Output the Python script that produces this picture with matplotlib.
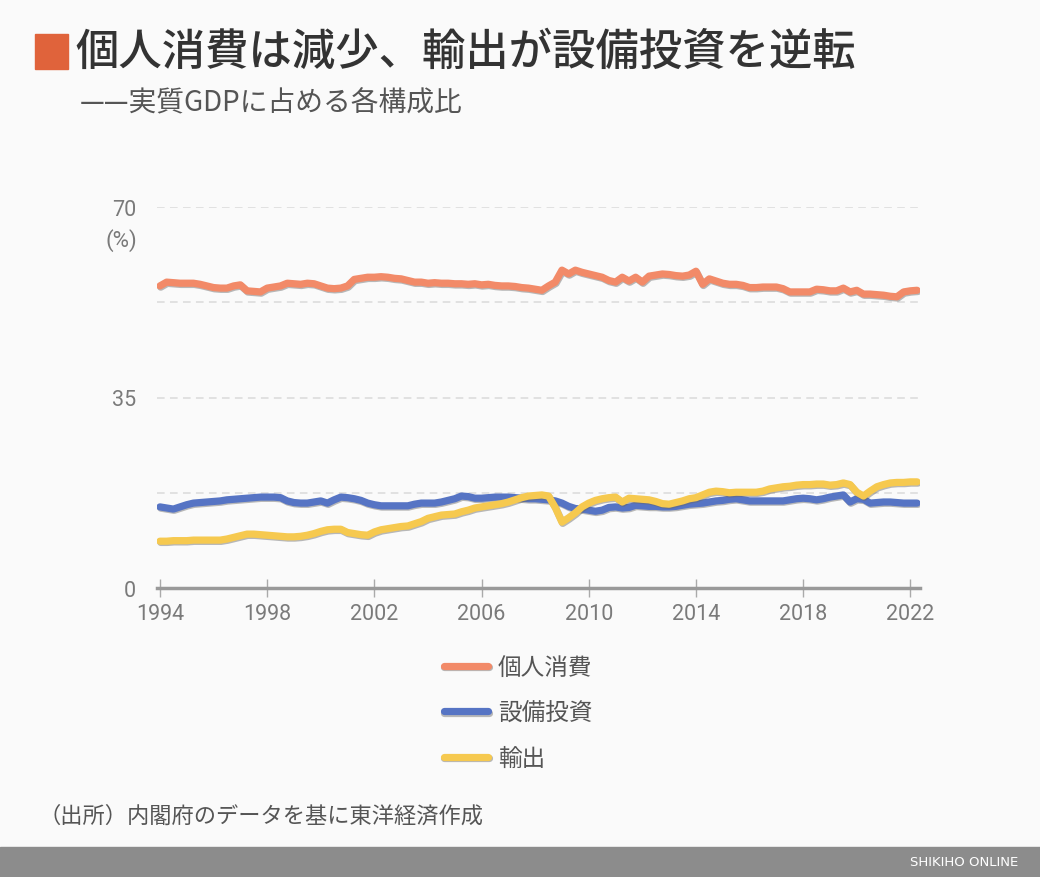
import matplotlib
matplotlib.use("Agg")
import matplotlib.pyplot as plt
import matplotlib.patheffects as pe
from matplotlib.lines import Line2D
from matplotlib.patches import Rectangle
import pandas as pd

plt.rcParams['font.family'] = ['Noto Sans CJK JP', 'DejaVu Sans']

# 実質GDPに占める各構成比（%）、四半期 1994Q1-2022Q2
quarters = pd.period_range('1994Q1', '2022Q2', freq='Q')

consumption = [
    55.5, 56.2, 56.1, 56.0,  56.0, 56.0, 55.8, 55.5,  55.2, 55.1, 55.1, 55.5,
    55.7, 54.6, 54.5, 54.4,  55.1, 55.3, 55.5, 56.0,  55.9, 55.8, 56.0, 55.9,
    55.5, 55.1, 55.0, 55.1,  55.5, 56.7, 56.9, 57.1,  57.1, 57.2, 57.1, 56.9,
    56.8, 56.5, 56.2, 56.2,  56.0, 56.1, 56.0, 56.0,  55.9, 55.9, 55.8, 55.9,
    55.7, 55.8, 55.6, 55.5,  55.5, 55.4, 55.2, 55.1,  54.9, 54.7, 55.5, 56.2,
    58.4, 57.7, 58.4, 58.0,  57.7, 57.4, 57.1, 56.5,  56.2, 57.1, 56.4, 57.1,
    56.2, 57.3, 57.5, 57.7,  57.6, 57.4, 57.3, 57.5,  58.2, 55.8, 56.8, 56.4,
    56.0, 55.8, 55.8, 55.6,  55.2, 55.2, 55.3, 55.3,  55.3, 55.0, 54.4, 54.4,
    54.4, 54.4, 54.9, 54.8,  54.6, 54.6, 55.1, 54.4,  54.7, 54.0, 54.0, 53.9,
    53.8, 53.6, 53.5, 54.4,  54.6, 54.7,
]

capex = [
    14.9, 14.7, 14.5, 14.9,  15.3, 15.6, 15.7, 15.8,  15.9, 16.0, 16.2, 16.3,
    16.4, 16.5, 16.6, 16.7,  16.7, 16.7, 16.6, 16.0,  15.7, 15.6, 15.6, 15.8,
    16.0, 15.6, 16.2, 16.7,  16.6, 16.4, 16.1, 15.6,  15.3, 15.1, 15.1, 15.1,
    15.1, 15.1, 15.4, 15.6,  15.6, 15.6, 15.8, 16.1,  16.4, 16.9, 16.8, 16.5,
    16.5, 16.6, 16.7, 16.7,  16.7, 16.6, 16.5, 16.4,  16.4, 16.3, 16.2, 16.0,
    15.6, 15.0, 14.6, 14.5,  14.3, 14.1, 14.3, 14.8,  14.9, 14.7, 14.8, 15.2,
    15.1, 15.0, 15.0, 14.9,  14.9, 15.0, 15.2, 15.4,  15.5, 15.6, 15.8, 16.0,
    16.1, 16.3, 16.4, 16.2,  16.0, 16.0, 16.0, 16.0,  16.0, 16.0, 16.2, 16.4,
    16.5, 16.4, 16.2, 16.4,  16.7, 16.9, 17.1, 15.8,  16.4, 16.3, 15.6, 15.7,
    15.8, 15.8, 15.7, 15.6,  15.6, 15.6,
]

exports = [
    8.6, 8.6, 8.7, 8.7,  8.7, 8.8, 8.8, 8.8,  8.8, 8.8, 9.0, 9.3,
    9.6, 9.9, 9.9, 9.8,  9.7, 9.6, 9.5, 9.4,  9.4, 9.5, 9.7, 10.0,
    10.4, 10.7, 10.8, 10.8,  10.2, 10.0, 9.8, 9.7,  10.3, 10.7, 10.9, 11.1,
    11.3, 11.4, 11.8, 12.2,  12.8, 13.1, 13.4, 13.5,  13.6, 14.0, 14.3, 14.7,
    14.9, 15.1, 15.3, 15.5,  15.8, 16.2, 16.6, 16.9,  17.0, 17.1, 16.9, 14.8,
    12.1, 12.9, 13.8, 14.9,  15.6, 16.1, 16.4, 16.6,  16.7, 15.8, 16.5, 16.4,
    16.3, 16.2, 15.9, 15.5,  15.4, 15.7, 16.0, 16.4,  16.6, 17.1, 17.6, 17.8,
    17.7, 17.5, 17.6, 17.6,  17.6, 17.6, 17.8, 18.2,  18.4, 18.6, 18.7, 18.9,
    19.0, 19.0, 19.1, 19.1,  18.9, 19.0, 19.3, 19.0,  17.6, 16.9, 17.8, 18.6,
    19.0, 19.3, 19.4, 19.4,  19.5, 19.5,
]

series_names = ['個人消費', '設備投資', '輸出']
series_colors = ['#f28a68', '#5674c4', '#f6c94f']
year_ticks = [1994, 1998, 2002, 2006, 2010, 2014, 2018, 2022]
y_ticks = [0, 17.5, 35, 52.5, 70]
y_labels = ['0', '', '35', '', '70']

bg = '#fafafa'
fig = plt.figure(figsize=(10.4, 8.78), dpi=100, facecolor=bg)
ax = fig.add_axes([157 / 1040, (878 - 589) / 878, 763 / 1040, 381 / 878])
ax.set_facecolor(bg)

x = [q.year + (q.quarter - 1) / 4 for q in quarters]
shadow = [pe.SimpleLineShadow(offset=(0.6, -0.9), shadow_color='#666666', alpha=0.45),
          pe.Normal()]
for values, name, color in zip([consumption, capex, exports], series_names, series_colors):
    ax.plot(x, values, color=color, lw=5.2, solid_capstyle='round',
            solid_joinstyle='round', path_effects=shadow, zorder=3)

ax.set_xlim(1993.89, 2022.36)
ax.set_ylim(0, 70)
ax.set_xticks(year_ticks)
ax.set_xticklabels([str(y) for y in year_ticks], family=['Roboto', 'Noto Sans CJK JP'])
ax.set_yticks(y_ticks)
ax.set_yticklabels(y_labels, family=['Roboto', 'Noto Sans CJK JP'])
ax.tick_params(axis='y', length=0, pad=15, labelsize=15.5, labelcolor='#7a7a7a')
ax.tick_params(axis='x', direction='inout', length=13, width=1, color='#aaaaaa',
               pad=4, labelsize=15.5, labelcolor='#7a7a7a')
ax.grid(axis='y', color='#dadada', lw=1.1, linestyle=(0, (5, 3.5)))
ax.set_axisbelow(True)
for side in ['top', 'right', 'left']:
    ax.spines[side].set_visible(False)
ax.spines['bottom'].set_color('#999999')
ax.spines['bottom'].set_linewidth(2.5)
ax.spines['bottom'].set_zorder(2)

fig.text(121 / 1040, 1 - 241 / 878, '(%)', ha='center', va='center', fontsize=16,
         color='#7a7a7a', family=['Roboto', 'Noto Sans CJK JP'])

# タイトル
fig.patches.append(Rectangle((35 / 1040, 1 - 70 / 878), 33 / 1040, 35 / 878,
                             transform=fig.transFigure, color='#e0633b'))
fig.text(75 / 1040, 1 - 52 / 878, '個人消費は減少、輸出が設備投資を逆転', fontsize=31.2,
         weight='medium', color='#333333', va='center', ha='left')
fig.text(80 / 1040, 1 - 103 / 878, '——実質GDPに占める各構成比', fontsize=20,
         color='#555555', va='center', ha='left')

handles = [Line2D([], [], color=c, lw=5.2, solid_capstyle='round',
                  path_effects=shadow) for c in series_colors]
fig.legend(handles, series_names, loc='upper center', bbox_to_anchor=(518 / 1040, 1 - 636 / 878),
           frameon=False, fontsize=17, labelcolor='#555555', handlelength=1.9,
           handletextpad=0.4, labelspacing=0.95)

fig.text(38 / 1040, 1 - 816 / 878, '（出所）内閣府のデータを基に東洋経済作成', fontsize=16,
         color='#555555', va='center', ha='left')

fig.patches.append(Rectangle((0, 0), 1, 30 / 878, transform=fig.transFigure,
                             color='#8c8c8c'))
fig.text(1018 / 1040, 15 / 878, 'SHIKIHO ONLINE', fontsize=9.5, color='white',
         ha='right', va='center', family=['Liberation Sans Narrow', 'DejaVu Sans'])

fig.savefig('out.png', dpi=100, facecolor=bg)
